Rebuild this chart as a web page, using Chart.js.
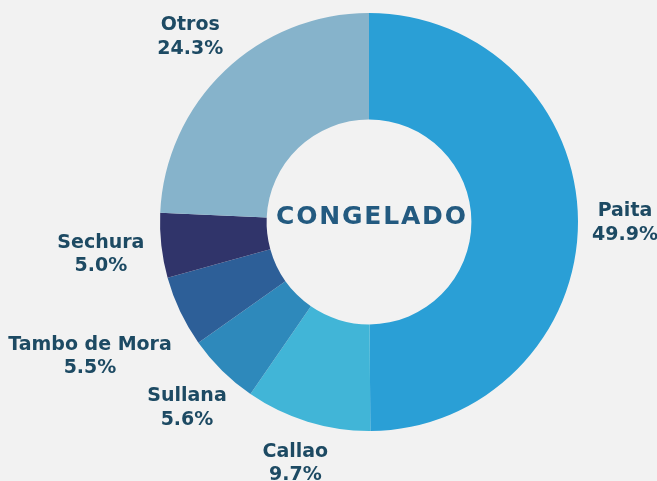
<!DOCTYPE html>
<html>
<head>
<meta charset="utf-8">
<script src="https://cdn.jsdelivr.net/npm/chart.js@4"></script>
<style>
  html, body { margin: 0; padding: 0; background: #f2f2f2; }
  #wrap { width: 657px; height: 481px; position: relative; }
</style>
</head>
<body>
<div id="wrap"><canvas id="c" width="657" height="481"></canvas></div>
<script>
const categories = ["Paita", "Callao", "Sullana", "Tambo de Mora", "Sechura", "Otros"];
const shares = [49.9, 9.7, 5.6, 5.5, 5.0, 24.3];
const colors = ["#2a9fd6", "#41b5d7", "#2e89bb", "#2d5f98", "#30346a", "#86b3cb"];
const centerTitle = "CONGELADO";

const FONT = "'DejaVu Sans', sans-serif";
const labelExtra = { "Tambo de Mora": 28, "Paita": -3 };

const outerLabels = {
  id: 'outerLabels',
  afterDatasetsDraw(chart) {
    const ctx = chart.ctx;
    const meta = chart.getDatasetMeta(0);
    ctx.save();
    ctx.font = "bold 19px " + FONT;
    ctx.fillStyle = "#1d4a63";
    ctx.textAlign = "center";
    ctx.textBaseline = "middle";
    const lh = 23.5;
    meta.data.forEach((arc, i) => {
      const p = arc.getProps(['x', 'y', 'startAngle', 'endAngle', 'outerRadius'], true);
      const mid = (p.startAngle + p.endAngle) / 2;
      const dx = Math.cos(mid), dy = Math.sin(mid);
      const l1 = categories[i];
      const l2 = shares[i].toFixed(1) + "%";
      const w = Math.max(ctx.measureText(l1).width, ctx.measureText(l2).width);
      const h = lh * 2;
      const off = Math.min(
        Math.abs(dx) > 1e-6 ? (w / 2) / Math.abs(dx) : Infinity,
        Math.abs(dy) > 1e-6 ? (h / 2) / Math.abs(dy) : Infinity
      );
      const d = p.outerRadius + 17 + off + (labelExtra[l1] || 0);
      const cx = p.x + dx * d;
      const cy = p.y + dy * d + 2;
      ctx.fillText(l1, cx, cy - lh / 2);
      ctx.fillText(l2, cx, cy + lh / 2);
    });
    // center title
    const a = meta.data[0];
    ctx.font = "bold 25px " + FONT;
    ctx.fillStyle = "#235a80";
    const ls = 1.8;
    ctx.letterSpacing = ls + "px";
    ctx.fillText(centerTitle, a.x + ls / 2 + 2, a.y - 5);
    ctx.restore();
  }
};

new Chart(document.getElementById('c'), {
  type: 'doughnut',
  data: {
    labels: categories,
    datasets: [{
      data: shares,
      backgroundColor: colors,
      borderWidth: 0
    }]
  },
  options: {
    responsive: false,
    animation: false,
    cutout: '49%',
    layout: { padding: { left: 160, right: 79, top: 13, bottom: 50 } },
    plugins: {
      legend: { display: false },
      tooltip: { enabled: false },
      title: { display: false }
    }
  },
  plugins: [outerLabels]
});
</script>
</body>
</html>
